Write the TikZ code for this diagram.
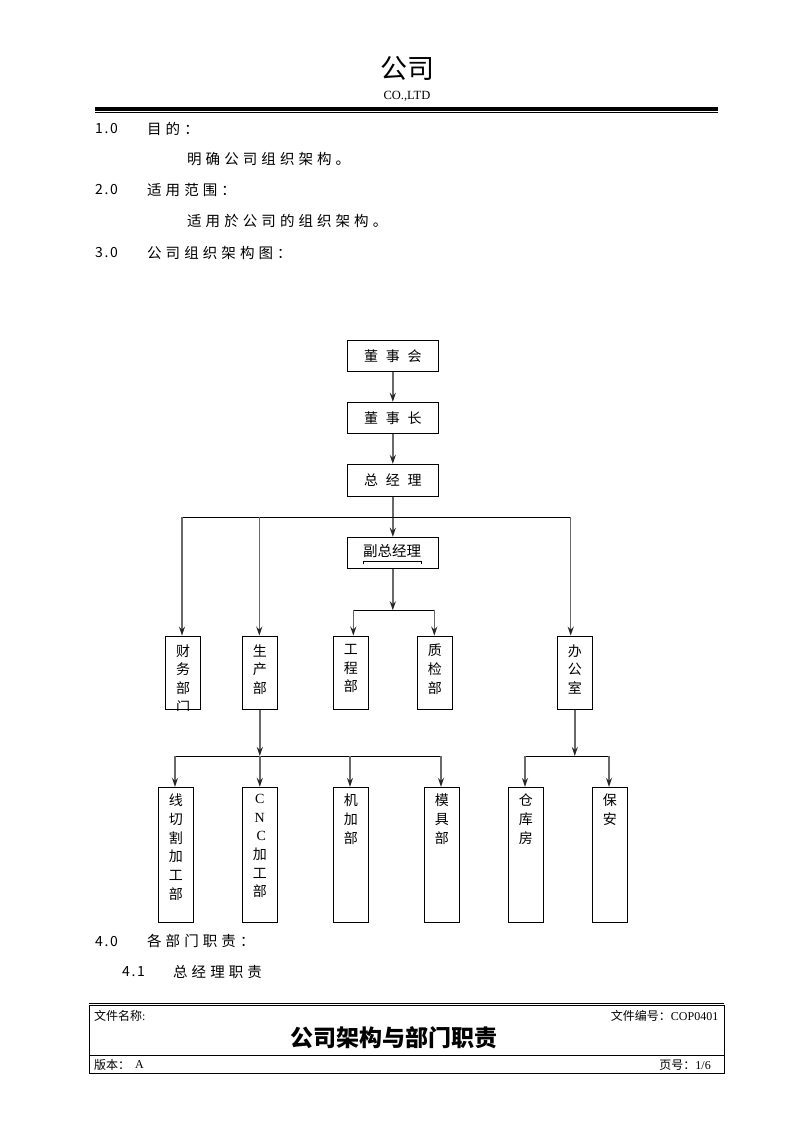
\documentclass[tikz,border=0pt]{standalone}
\usepackage{fontspec}
\setmainfont{Liberation Serif}
\newfontfamily\cjk{Noto Sans CJK SC}
\newfontfamily\cjksp[LetterSpace=28]{Noto Sans CJK SC}
\newfontfamily\cjknum[LetterSpace=12]{Noto Sans CJK SC}
\usetikzlibrary{arrows.meta}
\definecolor{linegray}{RGB}{105,105,105}
\tikzset{
 hbox/.style={draw, line width=0.9pt, inner sep=0pt, minimum width=91pt, minimum height=31pt, font=\cjk\fontsize{14}{14}\selectfont},
 vbox/.style={draw, line width=0.9pt, inner sep=0pt, minimum width=35pt},
 vtext/.style={anchor=north, inner sep=0pt, align=center, font=\cjk\fontsize{14}{18.7}\selectfont, yshift=-8.5pt},
 arr/.style={draw=linegray, line width=1.5pt, -{Stealth[length=9pt,width=6pt,inset=3pt,color=black!85]}},
 barline/.style={draw=black, line width=0.9pt},
 body/.style={anchor=west, inner sep=0pt, font=\cjksp\fontsize{14.5}{14.5}\selectfont},
 num/.style={anchor=west, inner sep=0pt, font=\cjknum\fontsize{14}{14}\selectfont},
 foot/.style={inner sep=0pt, font=\cjk\fontsize{12}{12}\selectfont},
}
\begin{document}
\begin{tikzpicture}[x=1pt,y=-1pt]
\useasboundingbox (0,0) rectangle (793,1122);
\fill[white] (0,0) rectangle (793,1122);

% header
\node[inner sep=0pt, font=\cjk\fontsize{27}{27}\selectfont] (hdr) at (407,68) {公司};
\node[inner sep=0pt, font=\fontsize{12.5}{12.5}\selectfont] (co) at (407,96) {CO.,LTD};
\draw[line width=3.7pt] (95,109.2) -- (718,109.2);
\draw[line width=1.2pt] (95,112.6) -- (718,112.6);

% body text
\node[num] (n1) at (95,129) {1.0};
\node[body] (t1) at (147,129) {目的：};
\node[body] (t1b) at (187,159) {明确公司组织架构。};
\node[num] (n2) at (95,190) {2.0};
\node[body] (t2) at (147,190) {适用范围：};
\node[body] (t2b) at (187,221) {适用於公司的组织架构。};
\node[num] (n3) at (95,253) {3.0};
\node[body] (t3) at (147,253) {公司组织架构图：};
\node[num] (n4) at (95,941) {4.0};
\node[body] (t4) at (147,941) {各部门职责：};
\node[num] (n41) at (122,972) {4.1};
\node[body] (t41) at (173,972) {总经理职责};

% org chart: top boxes
\node[hbox] (dsh) at (392.8,355.8) {董\hspace{7.7pt}事\hspace{7.7pt}会};
\node[hbox] (dsz) at (392.8,417.8) {董\hspace{7.7pt}事\hspace{7.7pt}长};
\node[hbox, minimum height=31.7pt] (zjl) at (392.8,480.2) {总\hspace{7.7pt}经\hspace{7.7pt}理};
\node[hbox] (fzjl) at (392.8,552.8) {};
\node[inner sep=0pt, font=\cjk\fontsize{14.5}{14.5}\selectfont] (fzjlt) at (392.2,550.7) {副总经理};
\draw[line width=0.6pt] (363.3,564.3) -- (363.3,561.7) -- (421,561.7) -- (421,564.3);

% row 2
\node[vbox, minimum height=73.5pt] (cwb) at (183,672.8) {};
\node[vbox, minimum height=73.5pt] (scb) at (259.8,672.8) {};
\node[vbox, minimum height=73.5pt] (gcb) at (350.8,672.8) {};
\node[vbox, minimum height=73.5pt] (zjb) at (434.8,672.8) {};
\node[vbox, minimum height=73.5pt] (bgs) at (574.8,672.8) {};
\begin{scope}
\clip (cwb.south west) rectangle (cwb.north east);
\node[vtext] (cwbt) at (cwb.north) {财\\务\\部\\门};
\end{scope}
\node[vtext] (scbt) at (scb.north) {生\\产\\部};
\node[vtext] (gcbt) at (gcb.north) {工\\程\\部};
\node[vtext] (zjbt) at (zjb.north) {质\\检\\部};
\node[vtext] (bgst) at (bgs.north) {办\\公\\室};

% row 3
\node[vbox, minimum height=135pt] (xqg) at (175.8,854.8) {};
\node[vbox, minimum height=135pt] (cnc) at (259.8,854.8) {};
\node[vbox, minimum height=135pt] (jjb) at (350.8,854.8) {};
\node[vbox, minimum height=135pt] (mjb) at (441.8,854.8) {};
\node[vbox, minimum height=135pt] (ckf) at (525.8,854.8) {};
\node[vbox, minimum height=135pt] (ba) at (609.8,854.8) {};
\begin{scope}[every node/.append style={yshift=1.5pt}]
\node[vtext] (xqgt) at (xqg.north) {线\\切\\割\\加\\工\\部};
\node[vtext] (cnct) at (cnc.north) {{\rmfamily C}\\{\rmfamily N}\\\hspace{3pt}{\rmfamily C}\\加\\工\\部};
\node[vtext] (jjbt) at (jjb.north) {机\\加\\部};
\node[vtext] (mjbt) at (mjb.north) {模\\具\\部};
\node[vtext] (ckft) at (ckf.north) {仓\\库\\房};
\node[vtext] (bat) at (ba.north) {保\\安};
\end{scope}

% connectors
\draw[arr] (dsh.south) -- (dsz.north);
\draw[arr] (dsz.south) -- (zjl.north);
\draw[arr] (zjl.south) -- (fzjl.north);
\coordinate (b1l) at (182,517.3);
\coordinate (b1m) at (259.3,517.3);
\coordinate (b1r) at (570.7,517.3);
\draw[barline] (b1l) -- (b1r);
\draw[arr] (b1l) -- (b1l |- cwb.north);
\draw[arr] (b1m) -- (b1m |- scb.north);
\draw[arr] (b1r) -- (b1r |- bgs.north);
\coordinate (b2l) at (353.3,610.3);
\coordinate (b2r) at (434.3,610.3);
\draw[barline] (b2l) -- (b2r);
\draw[arr] (fzjl.south) -- (fzjl.south |- b2l);
\draw[arr] (b2l) -- (b2l |- gcb.north);
\draw[arr] (b2r) -- (b2r |- zjb.north);

\coordinate (b3l) at (175,756);
\coordinate (b3b) at (350,756);
\coordinate (b3r) at (441,756);
\coordinate (b4l) at (525,756);
\coordinate (b4r) at (609,756);
\draw[barline] (b3l) -- (b3r);
\draw[barline] (b4l) -- (b4r);
\draw[arr] (scb.south) -- (scb.south |- b3l);
\draw[arr] (bgs.south) -- (bgs.south |- b4l);
\draw[arr] (b3l) -- (b3l |- xqg.north);
\draw[arr] (scb.south |- b3l) -- (cnc.north);
\draw[arr] (b3b) -- (b3b |- jjb.north);
\draw[arr] (b3r) -- (b3r |- mjb.north);
\draw[arr] (b4l) -- (b4l |- ckf.north);
\draw[arr] (b4r) -- (b4r |- ba.north);

% footer
\draw[line width=1.4pt] (89.3,1003.3) -- (724.3,1003.3);
\draw[line width=1pt] (89.3,1005.7) rectangle (724.3,1073.3);
\draw[line width=1pt] (89.3,1055.7) -- (724.3,1055.7);
\node[foot, anchor=west] (fname) at (94,1016) {文件名称{\rmfamily :}};
\node[foot, anchor=east] (fno) at (718.5,1015.5) {文件编号：{\rmfamily COP0401}};
\node[inner sep=0pt, font=\cjk\bfseries\fontsize{23}{23}\selectfont] (ftitle) at (394,1037.5) {公司架构与部门职责};
\node[foot, anchor=west] (fver) at (94,1065) {版本：};
\node[foot, anchor=west] (fverv) at (135,1065) {\rmfamily A};
\node[foot, anchor=east] (fpage) at (711,1065) {页号：{\rmfamily 1/6}};
\end{tikzpicture}
\end{document}
